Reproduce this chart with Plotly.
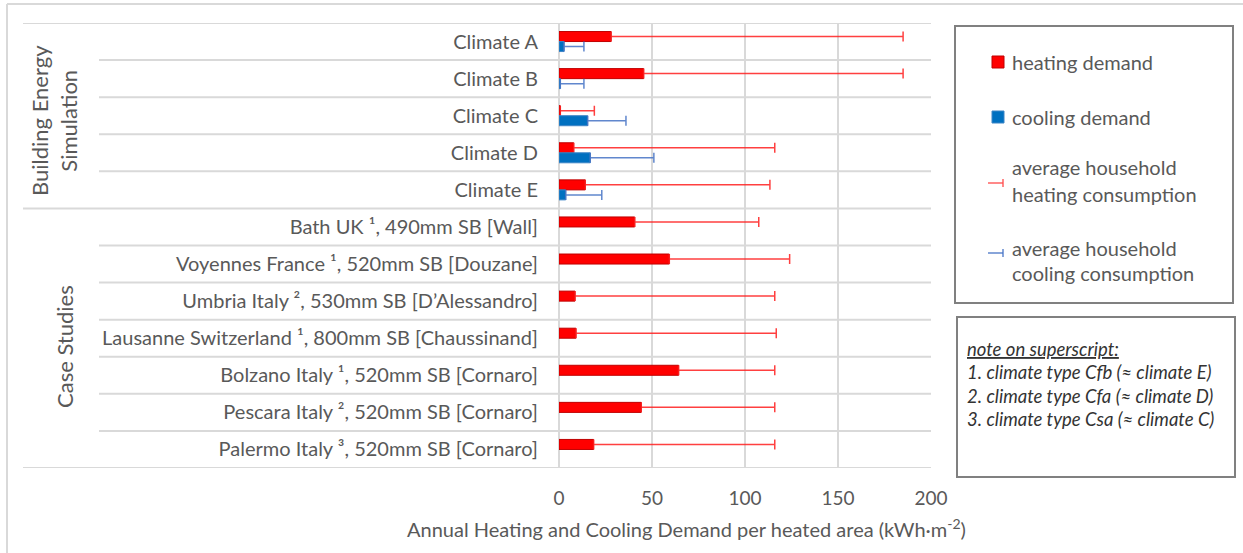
import plotly.graph_objects as go

# Rows of the chart, top to bottom
categories = [
    "Climate A",
    "Climate B",
    "Climate C",
    "Climate D",
    "Climate E",
    "Bath UK \u00b9, 490mm SB [Wall]",
    "Voyennes France \u00b9, 520mm SB [Douzane]",
    "Umbria Italy \u00b2, 530mm SB [D\u2019Alessandro]",
    "Lausanne Switzerland \u00b9, 800mm SB [Chaussinand]",
    "Bolzano Italy \u00b9, 520mm SB [Cornaro]",
    "Pescara Italy \u00b2, 520mm SB [Cornaro]",
    "Palermo Italy \u00b3, 520mm SB [Cornaro]",
]
group_names = ["Building Energy<br>Simulation", "Case Studies"]
group_sizes = [5, 7]

# kWh per m2 of heated area per year
heating_demand = [28, 45.5, 0.7, 7.9, 14.1, 40.7, 59.3, 8.6, 9.1, 64.3, 44.2, 18.6]
heating_consumption = [185, 185, 19, 116, 113.4, 107.4, 124, 116, 116.8, 116, 116, 116]
cooling_demand = [2.7, 0.7, 15.4, 16.8, 3.6, None, None, None, None, None, None, None]
cooling_consumption = [13.4, 13.4, 36, 51, 23, None, None, None, None, None, None, None]

x_ticks = [0, 50, 100, 150, 200]

TEXT = "#595959"
GRID = "#D9D9D9"
FONT = "Lato"

W, H = 1243, 553
L, R, T, B = 559, 931, 23, 468  # plot area in pixels


def px(x):
    return (x - L) / (R - L)


def py(y):
    return (B - y) / (B - T)


def plus_err(demand, consumption):
    return [None if d is None or c is None else c - d for d, c in zip(demand, consumption)]


fig = go.Figure()
fig.add_trace(go.Bar(
    y=categories, x=heating_demand, orientation="h", name="heating demand",
    marker=dict(color="#FF0000", line=dict(color="#C00000", width=1)),
    error_x=dict(type="data", symmetric=False,
                 array=plus_err(heating_demand, heating_consumption),
                 arrayminus=[0] * len(categories),
                 color="rgba(255,30,30,0.85)", thickness=1.5, width=5),
))
fig.add_trace(go.Bar(
    y=categories, x=cooling_demand, orientation="h", name="cooling demand",
    marker=dict(color="#0070C0", line=dict(color="#3D85C6", width=1)),
    error_x=dict(type="data", symmetric=False,
                 array=plus_err(cooling_demand, cooling_consumption),
                 arrayminus=[0 if c is not None else None for c in cooling_demand],
                 color="rgba(68,114,196,0.85)", thickness=1.5, width=5),
))

shapes = []
annotations = []

# row separators; group boundaries run across the group-label column
n = len(categories)
boundaries = {-0.5, n - 0.5}
acc = -0.5
for s in group_sizes:
    acc += s
    boundaries.add(acc)
for i in range(n + 1):
    yv = i - 0.5
    x0 = px(23) if yv in boundaries else px(99)
    shapes.append(dict(type="line", xref="paper", yref="y", x0=x0, x1=1, y0=yv, y1=yv,
                       line=dict(color=GRID, width=2), layer="below"))

# group labels, rotated in the left column
for name, (gx, gy) in zip(group_names, [(54, 121), (64, 347)]):
    annotations.append(dict(text=name, xref="paper", yref="paper", x=px(gx), y=py(gy),
                            xanchor="center", yanchor="middle",
                            textangle=-90, showarrow=False,
                            font=dict(family=FONT, size=22, color=TEXT)))

# outer chart frame (top and left edges)
shapes.append(dict(type="line", xref="paper", yref="paper", x0=px(7), x1=px(W), y0=py(4), y1=py(4),
                   line=dict(color=GRID, width=2)))
shapes.append(dict(type="line", xref="paper", yref="paper", x0=px(7), x1=px(7), y0=py(4), y1=py(H),
                   line=dict(color=GRID, width=2)))

# legend box
BOX = "#808080"
shapes.append(dict(type="rect", xref="paper", yref="paper", x0=px(955), x1=px(1233), y0=py(303), y1=py(26),
                   line=dict(color=BOX, width=2)))
shapes.append(dict(type="rect", xref="paper", yref="paper", x0=px(992), x1=px(1004), y0=py(68), y1=py(56),
                   fillcolor="#FF0000", line=dict(color="#C00000", width=1)))
shapes.append(dict(type="rect", xref="paper", yref="paper", x0=px(992), x1=px(1004), y0=py(123), y1=py(111),
                   fillcolor="#0070C0", line=dict(color="#3D85C6", width=1)))
for yy, col in [(183, "rgba(255,80,80,0.9)"), (253, "rgba(68,114,196,0.85)")]:
    shapes.append(dict(type="line", xref="paper", yref="paper", x0=px(988), x1=px(1003), y0=py(yy), y1=py(yy),
                       line=dict(color=col, width=1.5)))
    shapes.append(dict(type="line", xref="paper", yref="paper", x0=px(1003), x1=px(1003), y0=py(yy - 4), y1=py(yy + 4),
                       line=dict(color=col, width=1.5)))
legend_lines = [
    ("heating demand", 62),
    ("cooling demand", 117),
    ("average household", 167),
    ("heating consumption", 194),
    ("average household", 248),
    ("cooling consumption", 273),
]
for txt, yy in legend_lines:
    annotations.append(dict(text=txt, xref="paper", yref="paper", x=px(1010), y=py(yy),
                            xanchor="left", yanchor="middle", showarrow=False,
                            font=dict(family=FONT, size=20, color=TEXT)))

# superscript note box
shapes.append(dict(type="rect", xref="paper", yref="paper", x0=px(957), x1=px(1235), y0=py(477), y1=py(317),
                   line=dict(color=BOX, width=2)))
note_lines = [
    ("<i><u>note on superscript:</u></i>", 349),
    ("<i>1. climate type Cfb (\u2248 climate E)</i>", 372),
    ("<i>2. climate type Cfa (\u2248 climate D)</i>", 396),
    ("<i>3. climate type Csa (\u2248 climate C)</i>", 419),
]
for txt, yy in note_lines:
    annotations.append(dict(text=txt, xref="paper", yref="paper", x=px(965), y=py(yy),
                            xanchor="left", yanchor="middle", showarrow=False,
                            font=dict(family=FONT, size=18.5, color="#333333")))

# x axis title
annotations.append(dict(text="Annual Heating and Cooling Demand per heated area (kWh\u00b7m<sup>-2</sup>)",
                        xref="paper", yref="paper", x=px(686), y=py(528),
                        xanchor="center", yanchor="middle", showarrow=False,
                        font=dict(family=FONT, size=20, color=TEXT)))

fig.update_layout(
    width=W, height=H, autosize=False,
    margin=dict(l=L, r=W - R, t=T, b=H - B, pad=0),
    paper_bgcolor="white", plot_bgcolor="white",
    barmode="group", bargap=0.46, bargroupgap=0,
    showlegend=False,
    font=dict(family=FONT, color=TEXT, size=20),
    shapes=shapes, annotations=annotations,
)
fig.update_xaxes(range=[0, 200], tickvals=x_ticks, ticktext=[str(v) for v in x_ticks],
                 showgrid=True, gridcolor=GRID, gridwidth=2,
                 zeroline=True, zerolinecolor=GRID, zerolinewidth=2,
                 showline=False, ticks="", ticklabelstandoff=17,
                 tickfont=dict(family=FONT, size=19, color=TEXT))
fig.update_yaxes(type="category", categoryorder="array", categoryarray=categories,
                 range=[n - 0.5, -0.5], showgrid=False, zeroline=False,
                 showline=False, ticks="", ticklabelstandoff=20,
                 tickfont=dict(family=FONT, size=20, color=TEXT))

fig.write_html("out.html")
